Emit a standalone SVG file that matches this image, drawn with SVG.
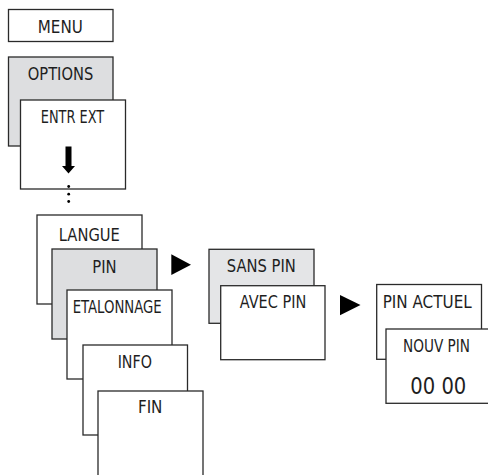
<svg xmlns="http://www.w3.org/2000/svg" width="488" height="475" viewBox="0 0 488 475">
<style>
.b{fill:#ffffff;stroke:#2a2a2a;stroke-width:1.3}
.g{fill:#dddee0;stroke:#2a2a2a;stroke-width:1.3}
.g2{fill:#e4e5e7;stroke:#2a2a2a;stroke-width:1.3}
.t{font-family:"DejaVu Sans Condensed","DejaVu Sans",sans-serif;font-stretch:condensed;font-size:17.5px;fill:#1e1e1e;text-anchor:middle}
.d{font-size:23px}
.a{fill:#000000}
</style>
<rect width="488" height="475" fill="#ffffff"/>
<g id="menu"><rect class="b" x="8.5" y="9.5" width="104.5" height="32"/><text class="t" x="60.3" y="33.3" textLength="45" lengthAdjust="spacingAndGlyphs">MENU</text></g>
<g id="options"><rect class="g" x="8.5" y="57" width="104.5" height="89"/><text class="t" x="60.5" y="80" textLength="65.5" lengthAdjust="spacingAndGlyphs">OPTIONS</text></g>
<g id="entr-ext"><rect class="b" x="20.5" y="100" width="105" height="89"/><text class="t" x="72.5" y="122.7" textLength="63.5" lengthAdjust="spacingAndGlyphs">ENTR EXT</text></g>
<g id="langue"><rect class="b" x="37" y="215" width="105" height="89"/><text class="t" x="89.3" y="240.7" textLength="61" lengthAdjust="spacingAndGlyphs">LANGUE</text></g>
<g id="pin"><rect class="g" x="52" y="249" width="105" height="90"/><text class="t" x="104.5" y="273.3" textLength="24.4" lengthAdjust="spacingAndGlyphs">PIN</text></g>
<g id="etalonnage"><rect class="b" x="67" y="290" width="105" height="89"/><text class="t" x="117.2" y="313.3" textLength="89" lengthAdjust="spacingAndGlyphs">ETALONNAGE</text></g>
<g id="info"><rect class="b" x="83" y="345" width="104.5" height="90"/><text class="t" x="134.8" y="367.7" textLength="34.3" lengthAdjust="spacingAndGlyphs">INFO</text></g>
<g id="fin"><rect class="b" x="98" y="391" width="105" height="95"/><text class="t" x="150.2" y="413.3" textLength="24.5" lengthAdjust="spacingAndGlyphs">FIN</text></g>
<g id="sans-pin"><rect class="g2" x="209" y="249.3" width="105" height="74"/><text class="t" x="261.3" y="271.7" textLength="69" lengthAdjust="spacingAndGlyphs">SANS PIN</text></g>
<g id="avec-pin"><rect class="b" x="220.7" y="285.7" width="104.3" height="74"/><text class="t" x="273" y="308.3" textLength="66.5" lengthAdjust="spacingAndGlyphs">AVEC PIN</text></g>
<g id="pin-actuel"><rect class="b" x="376.7" y="284.5" width="104.8" height="74.8"/><text class="t" x="427.2" y="307.5" textLength="89" lengthAdjust="spacingAndGlyphs">PIN ACTUEL</text></g>
<g id="nouv-pin"><rect class="b" x="386" y="329" width="105" height="74.3"/><text class="t" x="436.5" y="352" textLength="67" lengthAdjust="spacingAndGlyphs">NOUV PIN</text><text class="t d" x="438.3" y="394" textLength="56" lengthAdjust="spacingAndGlyphs">00 00</text></g>
<g id="connectors">
<path class="a" d="M65.5,146.5 H71.5 V166 H75 L68.5,173.5 L62,166 H65.5 Z"/>
<circle class="a" cx="68.7" cy="186.5" r="1.4"/>
<circle class="a" cx="68.7" cy="194.2" r="1.4"/>
<circle class="a" cx="68.7" cy="201.5" r="1.4"/>
<path class="a" d="M171.3,254.3 L191,264.7 L171.3,275 Z"/>
<path class="a" d="M340,295 L360.5,305 L340,315.3 Z"/>
</g>
</svg>
